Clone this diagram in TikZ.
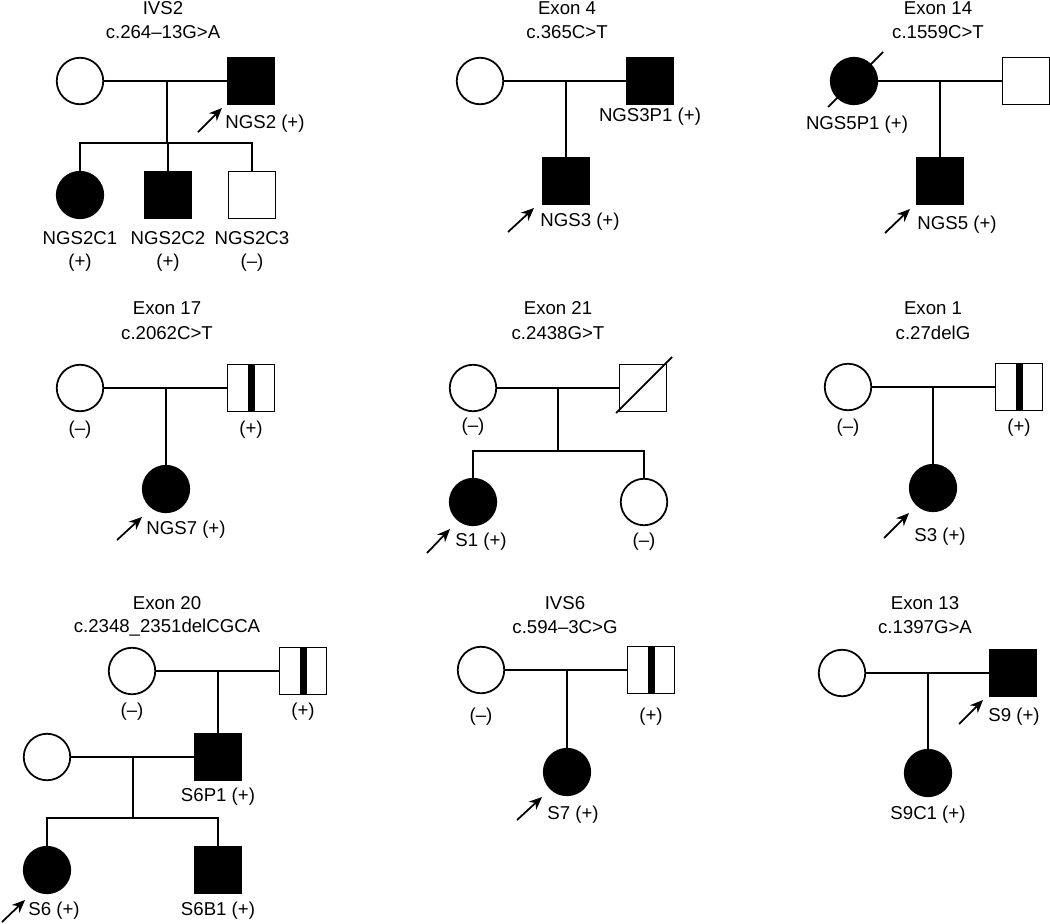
\documentclass[tikz,border=0pt]{standalone}
\usepackage{fontspec}
\setmainfont{Liberation Sans}
\usetikzlibrary{arrows.meta, positioning}

\begin{document}
\begin{tikzpicture}[
    x=0.02cm, y=-0.02cm,
    line width=1pt,
    every node/.style={font=\fontsize{10.6}{12}\selectfont},
    female/.style={circle, draw, fill=white, minimum size=0.93cm, inner sep=0pt},
    male/.style={rectangle, draw, fill=white, minimum size=0.94cm, inner sep=0pt},
    aff/.style={fill=black},
    carrier/.style={path picture={\fill[black] ([xshift=-0.07cm]path picture bounding box.south) rectangle ([xshift=0.07cm]path picture bounding box.north);}},
    lbl/.style={inner sep=1pt},
    proband/.style={-{Stealth[length=2.6mm, width=2.2mm]}}
  ]
  \useasboundingbox (0,0) rectangle (1050,923);

  % IVS2
  \node (t1a) at (163,8) {IVS2};
  \node (t1b) at (163,32) {c.264–13G>A};
  \node[female] (m1) at (80,81) {};
  \node[male, aff] (f1) at (251,81) {};
  \node[female, aff] (c11) at (80,195) {};
  \node[male, aff] (c12) at (168,195) {};
  \node[male] (c13) at (252,195) {};
  \coordinate (u1) at (167,81);
  \coordinate (s1) at (167,143);
  \draw (m1) -- (f1);
  \draw (u1) -- (s1);
  \draw (c11.north) -- (c11.north |- s1) -- (c13.north |- s1) -- (c13.north);
  \draw (c12.north) -- (c12.north |- s1);
  \draw[proband] ([shift={(-53,51)}]f1.center) -- ([shift={(-29,27)}]f1.center);
  \node[lbl] (l1) at (265,124) {NGS2 (+)};
  \node[lbl] (l11) at (80,238) {NGS2C1};
  \node[lbl] (g11) at (80,263) {(+)};
  \node[lbl] (l12) at (168,238) {NGS2C2};
  \node[lbl] (g12) at (168,263) {(+)};
  \node[lbl] (l13) at (252,238) {NGS2C3};
  \node[lbl] (g13) at (252,263) {(–)};

  % Exon 4
  \node (t2a) at (567,8) {Exon 4};
  \node (t2b) at (567,32) {c.365C>T};
  \node[female] (m2) at (480,81) {};
  \node[male, aff] (f2) at (650,81) {};
  \node[male, aff] (c2) at (566,181) {};
  \coordinate (u2) at (566,81);
  \draw (m2) -- (f2);
  \draw (u2) -- (c2.north);
  \draw[proband] ([shift={(-58,51)}]c2.center) -- ([shift={(-32,27)}]c2.center);
  \node[lbl] (l2) at (650,117) {NGS3P1 (+)};
  \node[lbl] (l21) at (580,222) {NGS3 (+)};

  % Exon 14
  \node (t3a) at (938,8) {Exon 14};
  \node (t3b) at (938,32) {c.1559C>T};
  \node[female, aff] (m3) at (854,81) {};
  \node[male] (f3) at (1026,81) {};
  \node[male, aff] (c3) at (940,181) {};
  \coordinate (u3) at (940,81);
  \draw (m3) -- (f3);
  \draw (u3) -- (c3.north);
  \draw ([shift={(-26,26)}]m3.center) -- ([shift={(29,-29)}]m3.center);
  \draw[proband] ([shift={(-55,52)}]c3.center) -- ([shift={(-30,28)}]c3.center);
  \node[lbl] (l3) at (857,125) {NGS5P1 (+)};
  \node[lbl] (l31) at (957,225) {NGS5 (+)};

  % Exon 17
  \node (t4a) at (167,308) {Exon 17};
  \node (t4b) at (167,333) {c.2062C>T};
  \node[female] (m4) at (80,388) {};
  \node[male, carrier] (f4) at (251,388) {};
  \node[female, aff] (c4) at (166,489) {};
  \coordinate (u4) at (166,388);
  \draw (m4) -- (f4);
  \draw (u4) -- (c4.north);
  \draw[proband] ([shift={(-49,51)}]c4.center) -- ([shift={(-24,28)}]c4.center);
  \node[lbl] (g4m) at (80,430) {(–)};
  \node[lbl] (g4f) at (251,430) {(+)};
  \node[lbl] (l41) at (186,530) {NGS7 (+)};

  % Exon 21
  \node (t5a) at (558,308) {Exon 21};
  \node (t5b) at (558,333) {c.2438G>T};
  \node[female] (m5) at (473,388) {};
  \node[male] (f5) at (643,388) {};
  \node[female, aff] (c51) at (473,502) {};
  \node[female] (c52) at (644,502) {};
  \coordinate (u5) at (558,388);
  \coordinate (s5) at (558,451);
  \draw (m5) -- (f5);
  \draw (u5) -- (s5);
  \draw (c51.north) -- (c51.north |- s5) -- (c52.north |- s5) -- (c52.north);
  \draw ([shift={(-27,25)}]f5.center) -- ([shift={(29,-31)}]f5.center);
  \draw[proband] ([shift={(-46,51)}]c51.center) -- ([shift={(-23,27)}]c51.center);
  \node[lbl] (g5m) at (473,427) {(–)};
  \node[lbl] (l51) at (481,542) {S1 (+)};
  \node[lbl] (g52) at (644,542) {(–)};

  % Exon 1
  \node (t6a) at (933,308) {Exon 1};
  \node (t6b) at (933,333) {c.27delG};
  \node[female] (m6) at (848,387) {};
  \node[male, carrier] (f6) at (1019,387) {};
  \node[female, aff] (c6) at (933,488) {};
  \coordinate (u6) at (933,387);
  \draw (m6) -- (f6);
  \draw (u6) -- (c6.north);
  \draw[proband] ([shift={(-49,50)}]c6.center) -- ([shift={(-24,25)}]c6.center);
  \node[lbl] (g6m) at (848,428) {(–)};
  \node[lbl] (g6f) at (1019,428) {(+)};
  \node[lbl] (l61) at (940,537) {S3 (+)};

  % Exon 20
  \node (t7a) at (167,603) {Exon 20};
  \node (t7b) at (167,628) {c.2348\_2351delCGCA};
  \node[female] (m7) at (132,671) {};
  \node[male, carrier] (f7) at (303,671) {};
  \node[male, aff] (p7) at (218,757) {};
  \node[female] (w7) at (47,757) {};
  \node[female, aff] (c71) at (47,870) {};
  \node[male, aff] (c72) at (218,870) {};
  \coordinate (u7) at (218,671);
  \coordinate (v7) at (133,757);
  \coordinate (s7) at (133,818);
  \draw (m7) -- (f7);
  \draw (u7) -- (p7.north);
  \draw (w7) -- (p7);
  \draw (v7) -- (s7);
  \draw (c71.north) -- (c71.north |- s7) -- (c72.north |- s7) -- (c72.north);
  \draw[proband] ([shift={(-45,52)}]c71.center) -- ([shift={(-22,30)}]c71.center);
  \node[lbl] (g7m) at (132,712) {(–)};
  \node[lbl] (g7f) at (303,712) {(+)};
  \node[lbl] (l7) at (218,797) {S6P1 (+)};
  \node[lbl] (l71) at (54,911) {S6 (+)};
  \node[lbl] (l72) at (218,911) {S6B1 (+)};

  % IVS6
  \node (t8a) at (565,603) {IVS6};
  \node (t8b) at (565,627) {c.594–3C>G};
  \node[female] (m8) at (481,670) {};
  \node[male, carrier] (f8) at (651,670) {};
  \node[female, aff] (c8) at (567,772) {};
  \coordinate (u8) at (567,670);
  \draw (m8) -- (f8);
  \draw (u8) -- (c8.north);
  \draw[proband] ([shift={(-50,48)}]c8.center) -- ([shift={(-25,25)}]c8.center);
  \node[lbl] (g8m) at (481,717) {(–)};
  \node[lbl] (g8f) at (651,717) {(+)};
  \node[lbl] (l81) at (573,815) {S7 (+)};

  % Exon 13
  \node (t9a) at (925,603) {Exon 13};
  \node (t9b) at (925,627) {c.1397G>A};
  \node[female] (m9) at (842,673) {};
  \node[male, aff] (f9) at (1013,673) {};
  \node[female, aff] (c9) at (928,773) {};
  \coordinate (u9) at (928,673);
  \draw (m9) -- (f9);
  \draw (u9) -- (c9.north);
  \draw[proband] ([shift={(-54,51)}]f9.center) -- ([shift={(-30,27)}]f9.center);
  \node[lbl] (l9) at (1014,717) {S9 (+)};
  \node[lbl] (l91) at (928,815) {S9C1 (+)};

\end{tikzpicture}
\end{document}
